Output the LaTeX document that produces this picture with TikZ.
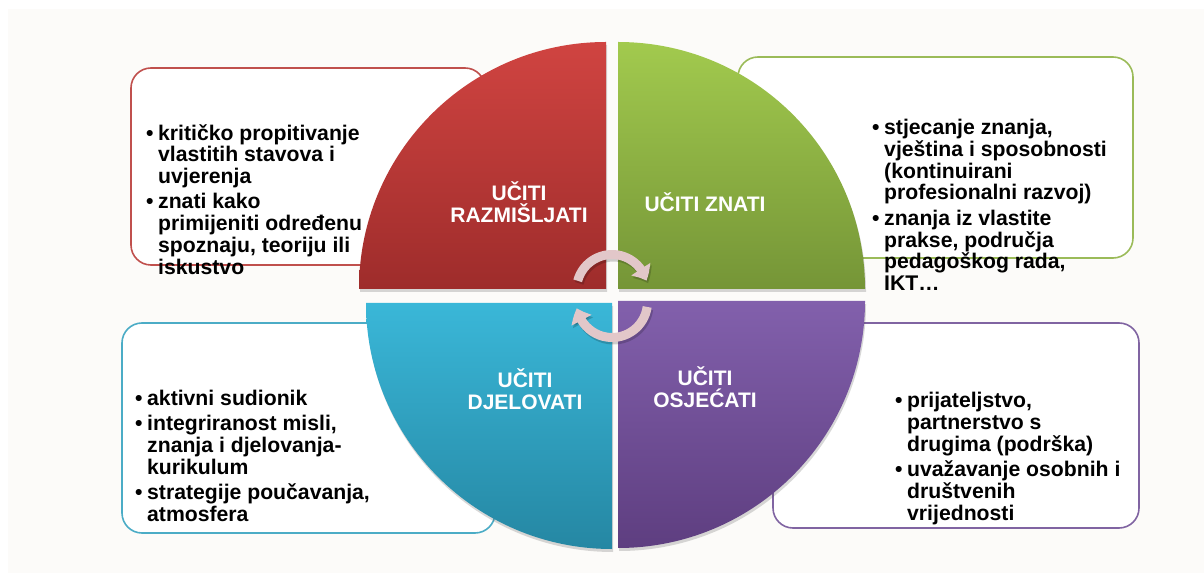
\documentclass[tikz,border=0pt]{standalone}
\usepackage{fontspec}
\setmainfont{Liberation Sans}
\usetikzlibrary{arrows.meta,bending,shadows}
\definecolor{bgc}{HTML}{FCFBF9}
\definecolor{redT}{HTML}{D04441}
\definecolor{redB}{HTML}{9E2C2B}
\definecolor{grnT}{HTML}{A2CA4E}
\definecolor{grnB}{HTML}{759537}
\definecolor{cyaT}{HTML}{3AB7D8}
\definecolor{cyaB}{HTML}{2587A3}
\definecolor{purT}{HTML}{8260AC}
\definecolor{purB}{HTML}{5E3E80}
\definecolor{redL}{HTML}{C0504D}
\definecolor{grnL}{HTML}{9BBB59}
\definecolor{cyaL}{HTML}{4BACC6}
\definecolor{purL}{HTML}{8064A2}
\definecolor{arrc}{HTML}{E2C7C9}
\newcommand\bul{\makebox[12pt][l]{•}}
\newcommand\ind{\hspace*{12pt}}
\begin{document}
\begin{tikzpicture}[x=1pt,y=1pt,
  infobox/.style={line width=1.6pt, rounded corners=20pt, fill=white},
  quad/.style={drop shadow={shadow xshift=1pt, shadow yshift=-3pt, opacity=0.22, fill=black!70}},
  bodytext/.style={anchor=north west, inner sep=0pt, align=left,
    font=\fontsize{21.2}{21.8}\selectfont\bfseries, text=black},
  quadlabel/.style={inner sep=0pt, align=center, text=white,
    font=\fontsize{21}{22}\selectfont\bfseries},
  cyclearrow/.style={line width=9pt, arrc, -{Triangle[width=22pt,length=13pt,bend]}},
  arrowshadow/.style={line width=9pt, black, opacity=0.18, -{Triangle[width=22pt,length=13pt,bend]}}]
\useasboundingbox (0,0) rectangle (1204,573);
\fill[white] (0,0) rectangle (1204,573);
\fill[bgc] (8,0) rectangle (1204,564);

% text boxes
\draw[infobox, draw=redL] (131,308) rectangle (485,505);
\draw[infobox, draw=grnL] (738,315) rectangle (1133,516);
\draw[infobox, draw=cyaL] (122,40) rectangle (495,250);
\draw[infobox, draw=purL] (773,45) rectangle (1139,250);

% quadrants
\path[quad, top color=redT, bottom color=redB] (606,284) -- (359,284) arc (180:90:247) -- cycle;
\path[quad, top color=grnT, bottom color=grnB] (618,284) -- (618,531) arc (90:0:247) -- cycle;
\path[quad, top color=cyaT, bottom color=cyaB] (612,270) -- (366,270) arc (180:270:246) -- cycle;
\path[quad, top color=purT, bottom color=purB] (618,272) -- (865,272) arc (0:-90:247) -- cycle;

% cycle arrows
\coordinate (c1) at (612,283);
\coordinate (c2) at (612,271);
\draw[arrowshadow] ([shift={(1.5,-2.5)}]c1) ++(165:35.5) arc (165:15:35.5);
\draw[arrowshadow] ([shift={(1.5,-2.5)}]c2) ++(-8:35.5) arc (-8:-170:35.5);
\draw[cyclearrow] (c1) ++(165:35.5) arc (165:15:35.5);
\draw[cyclearrow] (c2) ++(-8:35.5) arc (-8:-170:35.5);

% quadrant labels
\node[quadlabel] (lr) at (519,370.5) {UČITI\\RAZMIŠLJATI};
\node[quadlabel] (lg) at (705,371) {UČITI ZNATI};
\node[quadlabel] (lc) at (525,183.5) {UČITI\\DJELOVATI};
\node[quadlabel] (lp) at (705,185.5) {UČITI\\OSJEĆATI};

% body texts
\node[bodytext] (tr) at (146,449) {\bul kritičko propitivanje\\
\ind vlastitih stavova i\\
\ind uvjerenja\\[3.5pt]
\bul znati kako\\
\ind primijeniti određenu\\
\ind spoznaju, teoriju ili\\
\ind iskustvo};
\node[bodytext] (tg) at (872,454) {\bul stjecanje znanja,\\
\ind vještina i sposobnosti\\
\ind (kontinuirani\\
\ind profesionalni razvoj)\\[3.5pt]
\bul znanja iz vlastite\\
\ind prakse, područja\\
\ind pedagoškog rada,\\
\ind IKT…};
\node[bodytext] (tc) at (135,183) {\bul aktivni sudionik\\[3.5pt]
\bul integriranost misli,\\
\ind znanja i djelovanja-\\
\ind kurikulum\\[3.5pt]
\bul strategije poučavanja,\\
\ind atmosfera};
\node[bodytext] (tp) at (895,181) {\bul prijateljstvo,\\
\ind partnerstvo s\\
\ind drugima (podrška)\\[3.5pt]
\bul uvažavanje osobnih i\\
\ind društvenih\\
\ind vrijednosti};
\end{tikzpicture}
\end{document}
